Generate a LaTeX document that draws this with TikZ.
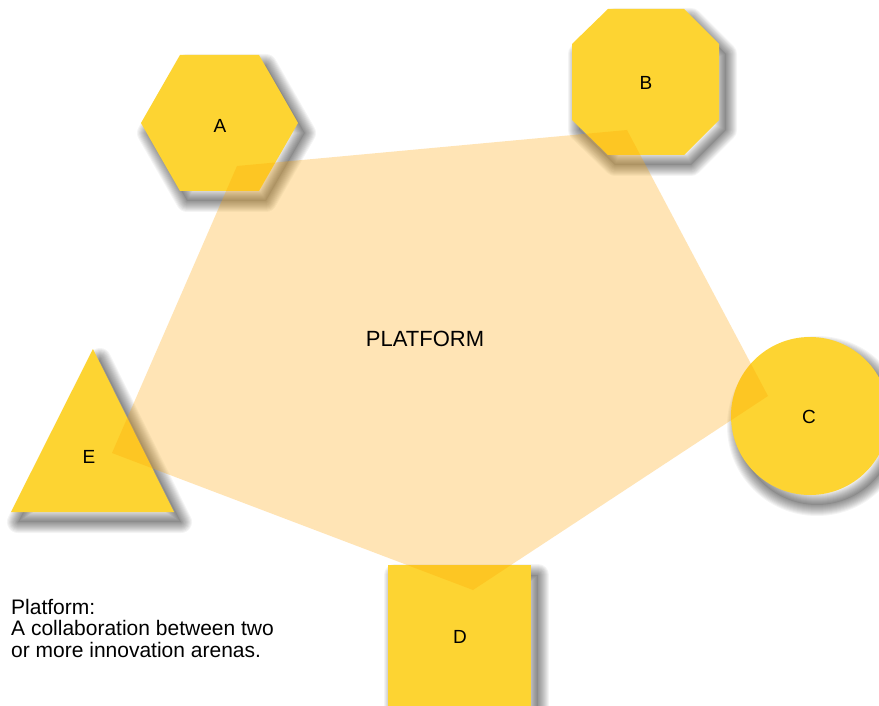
\documentclass[tikz,border=0pt]{standalone}
\usepackage{fontspec}
\setmainfont{Liberation Sans}
\definecolor{shapeyellow}{RGB}{253,212,50}
\definecolor{platorange}{RGB}{255,165,0}
\tikzset{
  member/.style={fill=shapeyellow, draw=none},
  shadowlayer/.style={draw=black, draw opacity=0.045, line join=round},
  shadowfill/.style={fill=black, fill opacity=0.08, draw=none},
  platform/.style={fill=platorange, fill opacity=0.29, draw=none},
  lbl/.style={font=\fontsize{19}{21}\selectfont, text=black, inner sep=0pt},
  biglbl/.style={font=\fontsize{22}{26}\selectfont, text=black, inner sep=0pt},
  caption/.style={font=\fontsize{21}{21.3}\selectfont, align=left, anchor=north west, inner sep=0pt}
}
\newcommand\shadowedshape[1]{%
  \begin{scope}[shift={(7,10)}]
    \path[shadowfill] #1;
    \foreach \w in {2,4,...,22}{\path[shadowlayer, line width=\w pt] #1;}
  \end{scope}
  \path[member] #1;
}
\begin{document}
\begin{tikzpicture}[x=1pt,y=-1pt]
\useasboundingbox (0,0) rectangle (879,706);
\clip (0,0) rectangle (879,706);
\fill[white] (0,0) rectangle (879,706);
% pentagon vertices
\coordinate (pa) at (237,166);
\coordinate (pb) at (627,130);
\coordinate (pc) at (768,396);
\coordinate (pd) at (473,590);
\coordinate (pe) at (112,453);
% member shapes
\shadowedshape{(141,123) -- (180,55) -- (259,55) -- (298,123) -- (259,191) -- (180,191) -- cycle}
\shadowedshape{(608,9) -- (684,9) -- (719,44) -- (719,120) -- (684,155) -- (608,155) -- (572,120) -- (572,44) -- cycle}
\shadowedshape{(810,416) circle[radius=79]}
\shadowedshape{(388,565) rectangle (531,740)}
\shadowedshape{(93,349) -- (174,512) -- (11,512) -- cycle}
% platform
\path[platform] (pa) -- (pb) -- (pc) -- (pd) -- (pe) -- cycle;
% labels
\node[lbl] (A) at (220,126) {A};
\node[lbl] (B) at (646,83) {B};
\node[lbl] (C) at (809,417) {C};
\node[lbl] (D) at (460,637) {D};
\node[lbl] (E) at (89,457) {E};
\node[biglbl] (P) at (425,339) {PLATFORM};
\node[caption] (cap) at (11,599) {Platform:\\A collaboration between two\\or more innovation arenas.};
\end{tikzpicture}
\end{document}
